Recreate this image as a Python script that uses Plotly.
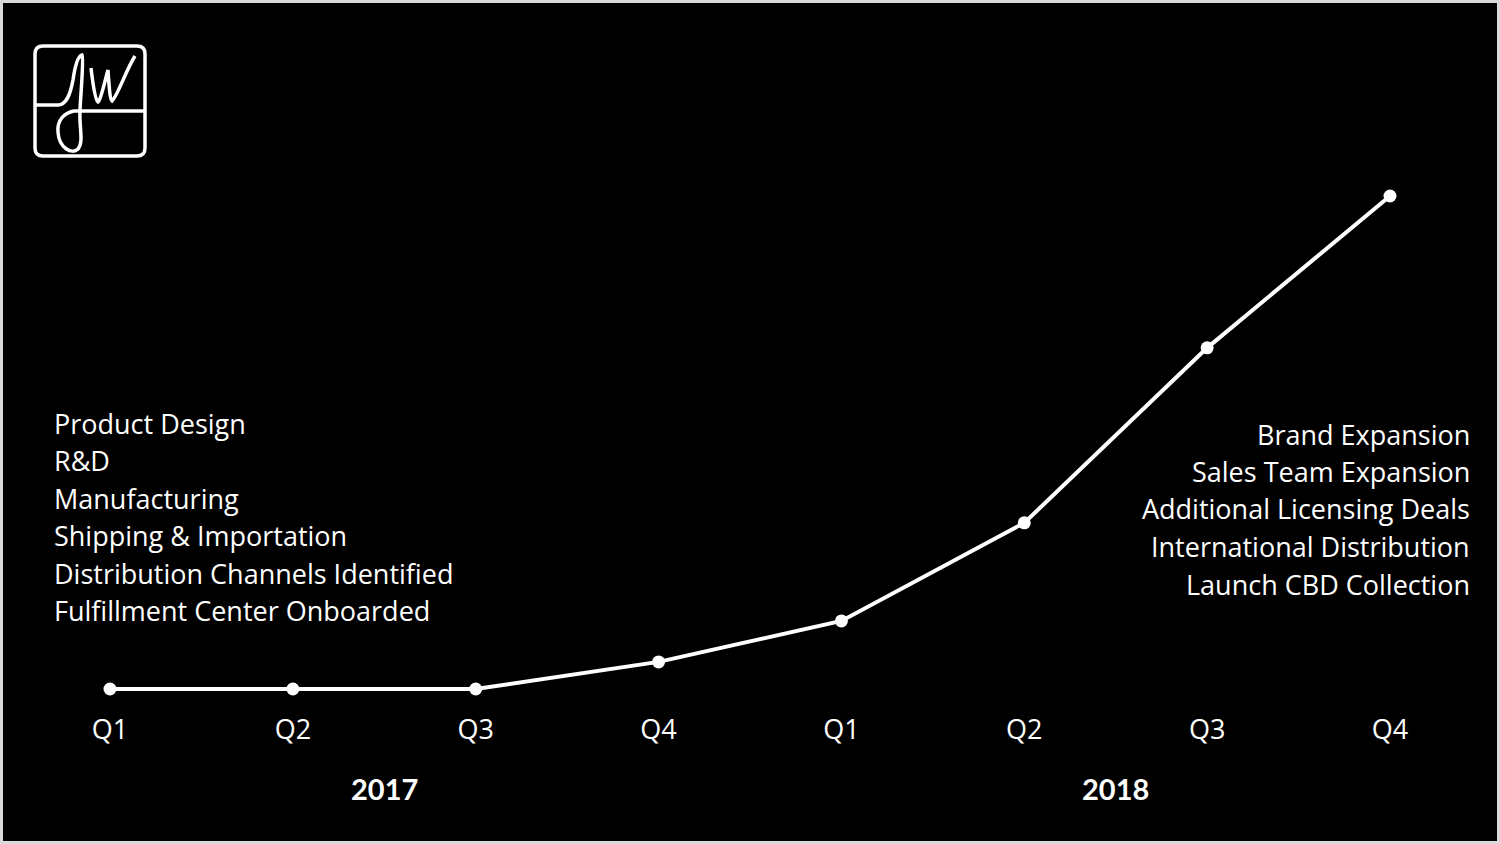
import plotly.graph_objects as go

# ---- data ----
quarters = ["Q1", "Q2", "Q3", "Q4", "Q1", "Q2", "Q3", "Q4"]
values = [0, 0, 0, 5.5, 13.8, 33.7, 69.2, 100]
years = ["2017", "2018"]
year_centers = [1.5, 5.5]
left_notes = ["Product Design", "R&D", "Manufacturing", "Shipping & Importation",
              "Distribution Channels Identified", "Fulfillment Center Onboarded"]
right_notes = ["Brand Expansion", "Sales Team Expansion", "Additional Licensing Deals",
               "International Distribution", "Launch CBD Collection"]

W, H = 1500, 844
MB = 144
PH = H - MB  # plot area height in px
FONT = "'Open Sans', Lato, sans-serif"
BFONT = "Lato, 'Open Sans', sans-serif"

def py(p):  # pixel y -> paper y
    return (PH - p) / PH

xi = list(range(len(quarters)))
fig = go.Figure()
fig.add_trace(go.Scatter(
    x=xi, y=values, mode="lines+markers",
    line=dict(color="white", width=4),
    marker=dict(color="white", size=13),
    hoverinfo="skip", showlegend=False,
))

ann = []
for i, t in enumerate(left_notes):
    ann.append(dict(text=t, x=52 / W, y=py(423 + i * 37.5), xref="paper", yref="paper",
                    xanchor="left", yanchor="middle", showarrow=False,
                    font=dict(family=FONT, size=27, color="white")))
for i, t in enumerate(right_notes):
    ann.append(dict(text=t, x=1472 / W, y=py(434 + i * 37.5), xref="paper", yref="paper",
                    xanchor="right", yanchor="middle", showarrow=False,
                    font=dict(family=FONT, size=27, color="white")))
for yr, c in zip(years, year_centers):
    ann.append(dict(text=yr, x=c, y=py(788), xref="x", yref="paper",
                    xanchor="center", yanchor="middle", showarrow=False,
                    font=dict(family=BFONT, size=29, color="white", weight="bold")))

def P(x, y):
    return f"{x},{-y}"

rr = 8
x0, x1, y0, y1 = 35, 145, 46, 156
logo_rect = (f"M {P(x0+rr,y0)} L {P(x1-rr,y0)} Q {P(x1,y0)} {P(x1,y0+rr)} "
             f"L {P(x1,y1-rr)} Q {P(x1,y1)} {P(x1-rr,y1)} L {P(x0+rr,y1)} "
             f"Q {P(x0,y1)} {P(x0,y1-rr)} L {P(x0,y0+rr)} Q {P(x0,y0)} {P(x0+rr,y0)} Z")
logo_j = (f"M {P(35,105)} L {P(58,105)} C {P(66,105)} {P(70,96)} {P(73,80)} "
          f"C {P(75,66)} {P(78,56)} {P(82,55)} "
          f"C {P(84,58)} {P(81,90)} {P(80,110)} C {P(79,128)} {P(84,142)} {P(78,149)} "
          f"C {P(72,155)} {P(59,148)} {P(58,132)} C {P(57,120)} {P(64,113)} {P(74,111)} "
          f"L {P(145,111)}")
logo_w = (f"M {P(91,68)} C {P(93,85)} {P(95,100)} {P(98,102)} "
          f"C {P(101,100)} {P(105,80)} {P(108,70)} C {P(109,85)} {P(110,100)} {P(112,101)} "
          f"C {P(118,95)} {P(126,70)} {P(135,56)}")

shapes = [
    dict(type="rect", xref="paper", yref="paper", x0=0, x1=1, y0=-MB / PH, y1=1,
         line=dict(color="#d9d9d9", width=6), fillcolor="rgba(0,0,0,0)", layer="above"),
]
for pth in (logo_rect, logo_j, logo_w):
    shapes.append(dict(type="path", path=pth, xref="paper", yref="paper",
                       xsizemode="pixel", ysizemode="pixel", xanchor=0, yanchor=1,
                       line=dict(color="white", width=3.5), fillcolor="rgba(0,0,0,0)",
                       layer="above"))

fig.update_layout(
    width=W, height=H,
    margin=dict(l=0, r=0, t=0, b=MB),
    paper_bgcolor="black", plot_bgcolor="black",
    xaxis=dict(range=[-110 / 182.86, 7 + 110 / 182.86], tickmode="array", tickvals=xi,
               ticktext=quarters, showgrid=False, zeroline=False, showline=False,
               ticks="", ticklabelstandoff=11,
               tickfont=dict(family=FONT, size=27, color="white"), fixedrange=True),
    yaxis=dict(range=[-11 / 4.93, -11 / 4.93 + PH / 4.93], visible=False, fixedrange=True),
    annotations=ann, shapes=shapes,
)
fig.write_html("out.html", config={"displayModeBar": False},
               post_script="document.body.style.margin='0';document.body.style.overflow='hidden';")
